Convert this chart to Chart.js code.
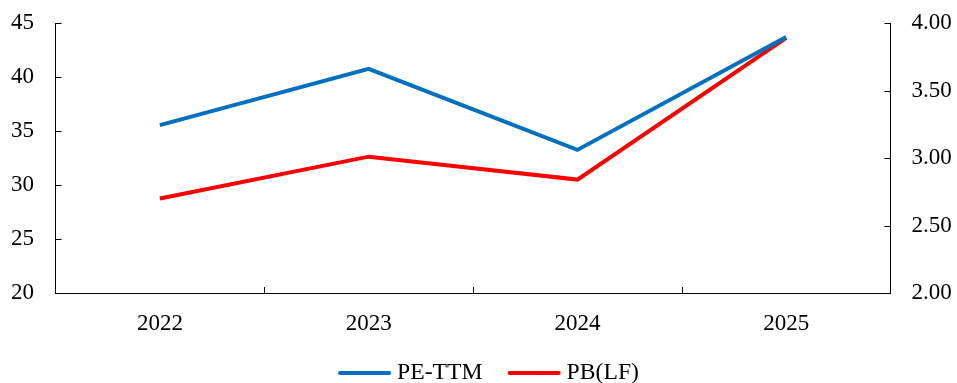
<!DOCTYPE html>
<html>
<head>
<meta charset="utf-8">
<script src="https://cdn.jsdelivr.net/npm/chart.js@4.4.1/dist/chart.umd.min.js"></script>
<style>
  html, body { margin: 0; padding: 0; background: #fff; }
  #wrap { width: 957px; height: 383px; position: relative; }
</style>
</head>
<body>
<div id="wrap"><canvas id="valChart"></canvas></div>
<script>
// --- Data ---
const years = ["2022", "2023", "2024", "2025"];
const peTTM = [35.55, 40.75, 33.25, 43.7];
const pbLF = [2.70, 3.01, 2.84, 3.89];

const FONT = "'Liberation Serif', 'Times New Roman', serif";

// Short tick marks drawn inward on every axis
const innerTicks = {
  id: "innerTicks",
  afterDatasetsDraw(chart) {
    const ctx = chart.ctx;
    const area = chart.chartArea;
    const len = 6;
    ctx.save();
    ctx.strokeStyle = "#000";
    ctx.lineWidth = 1;
    ctx.beginPath();
    const yl = chart.scales.yLeft;
    yl.ticks.forEach((t, i) => {
      const y = Math.round(yl.getPixelForTick(i)) + 0.5;
      ctx.moveTo(area.left, y);
      ctx.lineTo(area.left + len, y);
    });
    const yr = chart.scales.yRight;
    yr.ticks.forEach((t, i) => {
      const y = Math.round(yr.getPixelForTick(i)) + 0.5;
      ctx.moveTo(area.right, y);
      ctx.lineTo(area.right - len, y);
    });
    const step = (area.right - area.left) / years.length;
    for (let i = 1; i < years.length; i++) {
      const px = Math.round(area.left + step * i) + 0.5;
      ctx.moveTo(px, area.bottom);
      ctx.lineTo(px, area.bottom - len);
    }
    ctx.stroke();
    ctx.restore();
  }
};

// Legend under the axis: short line sample + name
const lineLegend = {
  id: "lineLegend",
  afterDraw(chart) {
    const ctx = chart.ctx;
    const y = 373;
    const sample = 53, gap = 6, between = 25;
    ctx.save();
    ctx.font = "23.7px " + FONT;
    ctx.textBaseline = "middle";
    const items = chart.data.datasets.map(ds => ({
      label: ds.label, color: ds.borderColor, w: ctx.measureText(ds.label).width
    }));
    let total = 0;
    items.forEach((it, i) => { total += sample + gap + it.w + (i ? between : 0); });
    let x = chart.width / 2 + 10 - total / 2;
    items.forEach((it, i) => {
      if (i) x += between;
      ctx.strokeStyle = it.color;
      ctx.lineWidth = 4;
      ctx.lineCap = "round";
      ctx.beginPath();
      ctx.moveTo(x + 2, y);
      ctx.lineTo(x + sample - 2, y);
      ctx.stroke();
      x += sample + gap;
      ctx.fillStyle = "#000";
      ctx.textAlign = "left";
      ctx.fillText(it.label, x, y);
      x += it.w;
    });
    ctx.restore();
  }
};

// y scales: no extra room reserved above/below for half-height labels
function fixedYPadding(scale) {
  scale.paddingTop = 0;
  scale.paddingBottom = 0;
}

window.addEventListener("DOMContentLoaded", () => {
  const ctx = document.getElementById("valChart").getContext("2d");

  new Chart(ctx, {
    type: "line",
    data: {
      labels: years,
      datasets: [
        {
          label: "PE-TTM",
          data: peTTM,
          yAxisID: "yLeft",
          borderColor: "#0070C0",
          backgroundColor: "#0070C0",
          borderWidth: 4,
          pointRadius: 0,
          tension: 0
        },
        {
          label: "PB(LF)",
          data: pbLF,
          yAxisID: "yRight",
          borderColor: "#FF0000",
          backgroundColor: "#FF0000",
          borderWidth: 4,
          pointRadius: 0,
          tension: 0
        }
      ]
    },
    options: {
      responsive: true,
      maintainAspectRatio: false,
      animation: false,
      layout: { padding: { top: 23, left: 0, right: 0, bottom: 30 } },
      scales: {
        x: {
          offset: true,
          grid: { display: false, drawTicks: false },
          border: { color: "#000", width: 1 },
          ticks: { color: "#000", padding: 17, font: { family: FONT, size: 23 } },
          afterFit(scale) { scale.height = 60; }
        },
        yLeft: {
          position: "left",
          min: 20,
          max: 45,
          grid: { display: false, drawTicks: false },
          border: { color: "#000", width: 1 },
          ticks: { stepSize: 5, color: "#000", padding: 21.5, font: { family: FONT, size: 23 } },
          afterFit(scale) { scale.width = 55.5; fixedYPadding(scale); }
        },
        yRight: {
          position: "right",
          min: 2,
          max: 4,
          grid: { display: false, drawTicks: false },
          border: { color: "#000", width: 1 },
          ticks: {
            stepSize: 0.5,
            color: "#000",
            padding: 21,
            font: { family: FONT, size: 23 },
            callback: v => Number(v).toFixed(2)
          },
          afterFit(scale) { scale.width = 66.5; fixedYPadding(scale); }
        }
      },
      plugins: {
        legend: { display: false },
        tooltip: { enabled: false }
      }
    },
    plugins: [innerTicks, lineLegend]
  });
});
</script>
</body>
</html>
